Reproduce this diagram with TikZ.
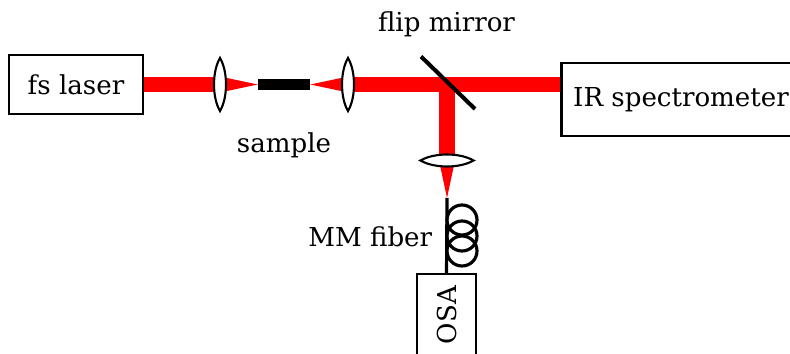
\documentclass[tikz,border=0pt]{standalone}
\usepackage{fontspec}
\setmainfont{DejaVu Serif}
\usetikzlibrary{calc}
\tikzset{
  devbox/.style={draw,line width=1.2pt,inner sep=0pt,font=\fontsize{14.85}{18}\selectfont},
  lbl/.style={font=\fontsize{14.85}{18}\selectfont,inner sep=0pt},
  beam/.style={red,line width=8.8pt},
  lens/.style={draw=black,fill=white,line width=1.2pt}
}
\begin{document}
\begin{tikzpicture}[x=0.02cm,y=-0.02cm]
  \clip[use as bounding box] (0,0) rectangle (790,354);
  \node[devbox,minimum width=76pt,minimum height=33.4pt] (laser) at (76,84.5) {fs laser};
  \node[devbox,minimum width=136pt,minimum height=41.8pt] (irspec) at (681,99.5) {IR spectrometer};
  \node[devbox,minimum width=46.5pt,minimum height=33.4pt,rotate=90] (osa) at (446.5,315) {OSA};
  \node[fill=black,minimum width=29.5pt,minimum height=6.2pt,inner sep=0pt] (sample) at (284,84.5) {};
  \coordinate (lensA) at (220,84.5);
  \coordinate (lensB) at (348,84.5);
  \coordinate (turn) at (447,84.5);
  \coordinate (lensC) at (447,160.5);
  \coordinate (tip) at (447,198);
  % beam
  \draw[beam] (laser.east |- lensA) -- (lensA);
  \draw[beam] (lensB) -- (irspec.west |- lensB);
  \draw[beam] (turn) -- (lensC);
  \fill[red] ($(lensA)+(0,-8)$) -- (sample.west) -- ($(lensA)+(0,8)$) -- cycle;
  \fill[red] ($(lensB)+(0,-8)$) -- (sample.east) -- ($(lensB)+(0,8)$) -- cycle;
  \fill[red] ($(lensC)+(-8,0)$) -- (tip) -- ($(lensC)+(8,0)$) -- cycle;
  % lenses
  \foreach \l in {lensA,lensB}
    \draw[lens] ($(\l)+(0,-26.5)$) .. controls ($(\l)+(8,-13)$) and ($(\l)+(8,13)$) .. ($(\l)+(0,26.5)$)
      .. controls ($(\l)+(-8,13)$) and ($(\l)+(-8,-13)$) .. cycle;
  \draw[lens] ($(lensC)+(-26.5,0)$) .. controls ($(lensC)+(-13,-8)$) and ($(lensC)+(13,-8)$) .. ($(lensC)+(26.5,0)$)
    .. controls ($(lensC)+(13,8)$) and ($(lensC)+(-13,8)$) .. cycle;
  % mirror and fiber
  \draw[line width=2.3pt] (421,56.5) -- (475,109);
  \draw[line width=1.8pt] (tip) -- (osa.east);
  \foreach \y in {220,236,251}
    \draw[line width=1.8pt] (462,\y) circle (15);
  \node[lbl] (flip) at (446.5,24.5) {flip mirror};
  \node[lbl] (samplelbl) at (284,145) {sample};
  \node[lbl,anchor=east] (fiber) at (432.5,237) {MM fiber};
\end{tikzpicture}
\end{document}
